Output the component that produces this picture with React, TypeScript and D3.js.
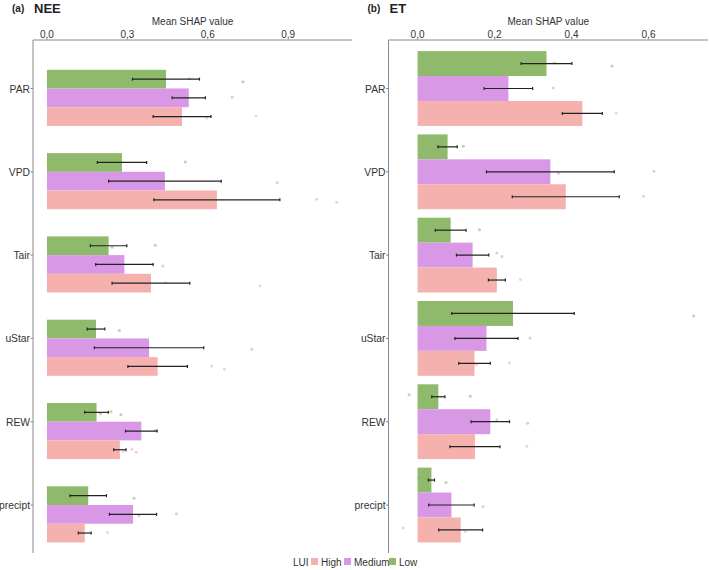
import React, { useEffect } from 'react';
import * as d3 from 'd3';

const categories = ['PAR', 'VPD', 'Tair', 'uStar', 'REW', 'precipt'];
const luiLevels = ['Low', 'Medium', 'High'];
const luiColors: Record<string, string> = { High: '#f5b1ad', Medium: '#d898e6', Low: '#8fba6c' };

// NEE: mean SHAP per LUI level, SE, and single-site values
const neeMean: Record<string, number[]> = {
  Low: [0.444, 0.28, 0.23, 0.183, 0.185, 0.154],
  Medium: [0.529, 0.44, 0.289, 0.381, 0.352, 0.321],
  High: [0.504, 0.634, 0.388, 0.413, 0.272, 0.141],
};
const neeSe: Record<string, number[]> = {
  Low: [0.125, 0.092, 0.068, 0.033, 0.044, 0.068],
  Medium: [0.062, 0.21, 0.107, 0.204, 0.059, 0.088],
  High: [0.108, 0.235, 0.145, 0.111, 0.023, 0.024],
};
const neePoints: Record<string, number[][]> = {
  Low: [[0.108, 0.409, 0.531, 0.731], [0.052, 0.265, 0.516], [0.067, 0.243, 0.404], [0.133, 0.27], [0.108, 0.2, 0.239, 0.276], [0.061, 0.08, 0.108, 0.325]],
  Medium: [[0.428, 0.456, 0.691], [0.264, 0.859], [0.088, 0.432], [0.198, 0.764], [0.285, 0.341, 0.404], [0.2, 0.343, 0.483]],
  High: [[0.225, 0.596, 0.78], [0.15, 0.292, 1.006, 1.081], [0.144, 0.219, 0.443, 0.795], [0.193, 0.25, 0.614, 0.662], [0.233, 0.285, 0.317, 0.333], [0.092, 0.129, 0.226]],
};

// ET
const etMean: Record<string, number[]> = {
  Low: [0.335, 0.078, 0.086, 0.248, 0.054, 0.036],
  Medium: [0.236, 0.345, 0.143, 0.179, 0.189, 0.088],
  High: [0.428, 0.385, 0.206, 0.148, 0.149, 0.112],
};
const etSe: Record<string, number[]> = {
  Low: [0.066, 0.025, 0.04, 0.159, 0.017, 0.008],
  Medium: [0.063, 0.166, 0.042, 0.082, 0.05, 0.059],
  High: [0.052, 0.139, 0.022, 0.041, 0.065, 0.057],
};
const etPoints: Record<string, number[][]> = {
  Low: [[0.219, 0.293, 0.356, 0.505], [0.046, 0.066, 0.119], [0.005, 0.035, 0.161], [0.037, 0.057, 0.223, 0.717], [-0.022, 0.025, 0.137], [0.002, 0.009, 0.016, 0.074]],
  Medium: [[0.124, 0.188, 0.352], [0.041, 0.366, 0.614], [0.206, 0.219], [0.089, 0.137, 0.292], [0.206, 0.286], [0.039, 0.17]],
  High: [[0.349, 0.395, 0.516], [0.138, 0.329, 0.587], [0.134, 0.176, 0.267], [0.092, 0.153, 0.239], [0.106, 0.121, 0.284], [-0.037, 0.124]],
};

const neeTicks = [0, 0.3, 0.6, 0.9];
const etTicks = [0, 0.2, 0.4, 0.6];

const jitter = [-2, 1.5, -0.5, 2.5, -1.5];
const fmt = (v: number) => d3.format('.1f')(v).replace('.', ',');
const FONT = 'Liberation Sans, Arial, sans-serif';

type PanelProps = {
  x0: number; x1: number; tag: string; title: string;
  domain: [number, number]; ticks: number[];
  mean: Record<string, number[]>; se: Record<string, number[]>; points: Record<string, number[][]>;
  slots: string[];
};

const Panel = ({ x0, x1, tag, title, domain, ticks, mean, se, points, slots }: PanelProps) => {
  const top = 40;
  const bottom = 553;
  const x = d3.scaleLinear().domain(domain).range([x0, x1]);
  const y = d3.scalePoint().domain(categories).range([88.5, 505]);
  const dodge = d3.scaleBand().domain(slots).range([-37.4, 37.4]);
  const bh = dodge.bandwidth();
  return (
    <g fontFamily={FONT}>
      <text x={x0 - 21} y={12} fontSize={10} fontWeight="bold" fill="#222">{tag}</text>
      <text x={x0 + 1} y={12.5} fontSize={13} fontWeight="bold" fill="#222">{title}</text>
      <text x={(x0 + x1) / 2} y={25} fontSize={10} textAnchor="middle" fill="#333">Mean SHAP value</text>
      {ticks.map(t => (
        <text key={t} x={x(t)} y={37.5} fontSize={10} textAnchor="middle" fill="#333">{fmt(t)}</text>
      ))}
      {luiLevels.map(l => categories.map((c, i) => {
        const cy = (y(c) as number) + (dodge(l) as number);
        const m = mean[l][i];
        const s = se[l][i];
        const mid = cy + bh / 2;
        return (
          <g key={l + c}>
            <rect x={x(0)} y={cy} width={x(m) - x(0)} height={bh} fill={luiColors[l]} />
            {points[l][i].map((p, k) => (
              <circle key={k} cx={x(p)} cy={mid + jitter[k % jitter.length]} r={1.5} fill={luiColors[l]} opacity={0.6} />
            ))}
            <line x1={x(m - s)} x2={x(m + s)} y1={mid} y2={mid} stroke="#222" strokeWidth={1.2} />
            <line x1={x(m - s)} x2={x(m - s)} y1={mid - 1.5} y2={mid + 1.5} stroke="#222" strokeWidth={1.2} />
            <line x1={x(m + s)} x2={x(m + s)} y1={mid - 1.5} y2={mid + 1.5} stroke="#222" strokeWidth={1.2} />
          </g>
        );
      }))}
      <line x1={x0} x2={x1} y1={top} y2={top} stroke="#888" strokeWidth={1} />
      <line x1={x0} x2={x0} y1={top} y2={bottom} stroke="#888" strokeWidth={1} />
      {categories.map(c => (
        <g key={c}>
          <line x1={x0 - 2.5} x2={x0} y1={y(c)} y2={y(c)} stroke="#888" />
          <text x={x0 - 3} y={(y(c) as number) + 4} fontSize={10.3} textAnchor="end" fill="#333">{c}</text>
        </g>
      ))}
    </g>
  );
};

export default function App() {
  useEffect(() => {
    document.body.style.margin = '0';
  }, []);
  const legendItems = ['High', 'Medium', 'Low'];
  const legendX = [311, 344, 389];
  return (
    <svg width={709} height={570} style={{ display: 'block', background: '#fff' }}>
      <Panel x0={33} x1={352} tag="(a)" title="NEE" domain={[-0.052, 1.138]} ticks={neeTicks}
        mean={neeMean} se={neeSe} points={neePoints} slots={['none', 'Low', 'Medium', 'High']} />
      <Panel x0={388.5} x1={708} tag="(b)" title="ET" domain={[-0.0755, 0.7545]} ticks={etTicks}
        mean={etMean} se={etSe} points={etPoints} slots={['Low', 'Medium', 'High']} />
      <g fontFamily={FONT} fontSize={10} fill="#333">
        <text x={293} y={566}>LUI</text>
        {legendItems.map((l, i) => (
          <g key={l}>
            <rect x={legendX[i]} y={558} width={7} height={7} fill={luiColors[l]} />
            <text x={legendX[i] + 10} y={566}>{l}</text>
          </g>
        ))}
      </g>
    </svg>
  );
}
